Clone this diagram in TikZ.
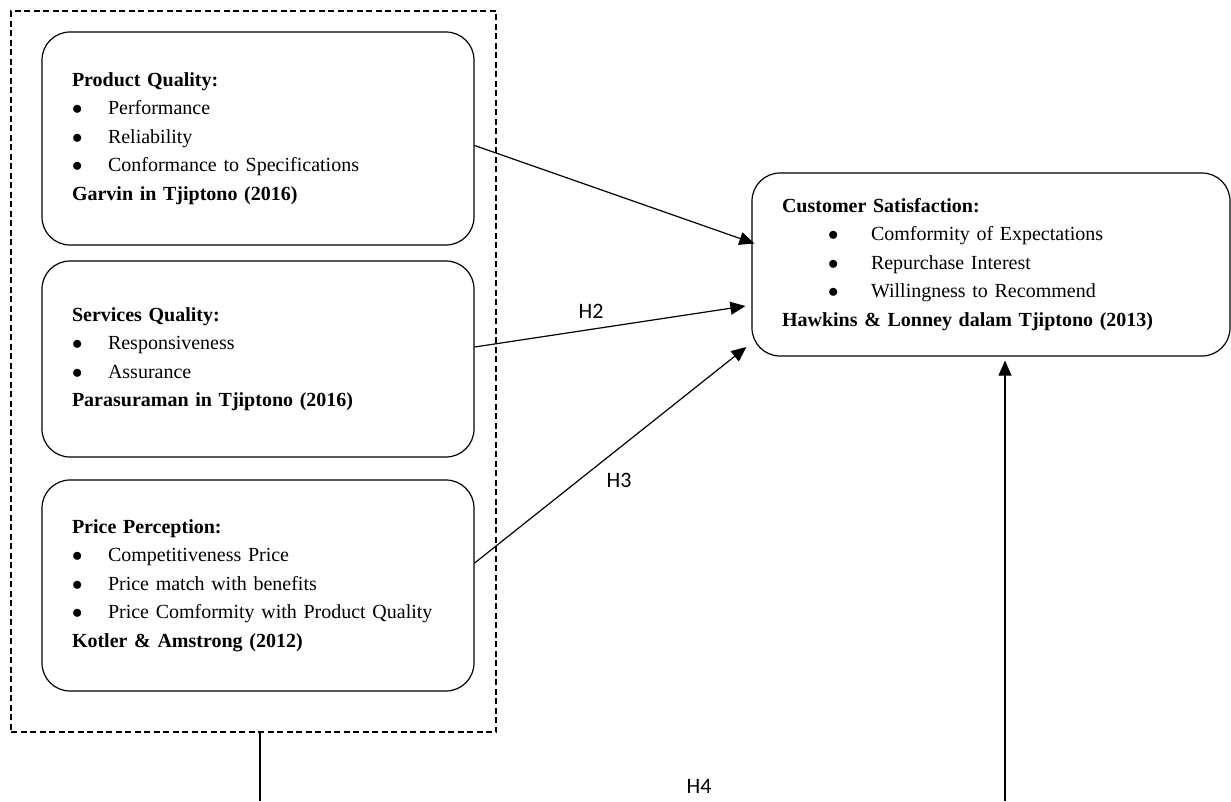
\documentclass[tikz,border=0pt]{standalone}
\usepackage{fontspec}
\setmainfont{Liberation Serif}
\newfontfamily\hfont{Carlito}
\usetikzlibrary{arrows.meta,calc}
\newcommand{\blt}{$\bullet$}
\begin{document}
\begin{tikzpicture}[x=1pt,y=-1pt,
  varbox/.style={draw, line width=1.2pt, rounded corners=28pt, inner xsep=30pt, inner ysep=0pt,
    align=left, font=\fontsize{20}{28.4}\selectfont},
  grpbox/.style={draw, line width=1.1pt, dash pattern=on 6pt off 3.5pt, inner sep=0pt},
  plain/.style={line width=1.2pt},
  link/.style={line width=1.2pt, -{Triangle[length=15pt,width=13pt]}},
  hlabel/.style={font=\hfont\fontsize{22}{24}\selectfont}
]
\useasboundingbox (0,0) rectangle (1231,801);

\node[grpbox, minimum width=485pt, minimum height=721pt] (grp) at (253.5,371.5) {};

\node[varbox, minimum width=432pt, minimum height=213pt, text width=372pt] (pq) at (258,138.5)
{\textbf{Product Quality:}\\
\makebox[36pt][l]{\blt}Performance\\
\makebox[36pt][l]{\blt}Reliability\\
\makebox[36pt][l]{\blt}Conformance to Specifications\\
\textbf{Garvin in Tjiptono (2016)}};

\node[varbox, minimum width=432pt, minimum height=196pt, text width=372pt] (sq) at (258,359)
{\textbf{Services Quality:}\\
\makebox[36pt][l]{\blt}Responsiveness\\
\makebox[36pt][l]{\blt}Assurance\\
\textbf{Parasuraman in Tjiptono (2016)}};

\node[varbox, minimum width=432pt, minimum height=211pt, text width=372pt] (pp) at (258,585.5)
{\textbf{Price Perception:}\\
\makebox[36pt][l]{\blt}Competitiveness Price\\
\makebox[36pt][l]{\blt}Price match with benefits\\
\makebox[36pt][l]{\blt}Price Comformity with Product Quality\\
\textbf{Kotler \& Amstrong (2012)}};

\node[varbox, minimum width=478pt, minimum height=183pt, text width=418pt] (cs) at (991,264.5)
{\textbf{Customer Satisfaction:}\\
\hspace*{46pt}\makebox[43pt][l]{\blt}Comformity of Expectations\\
\hspace*{46pt}\makebox[43pt][l]{\blt}Repurchase Interest\\
\hspace*{46pt}\makebox[43pt][l]{\blt}Willingness to Recommend\\
\textbf{Hawkins \& Lonney dalam Tjiptono (2013)}};

\draw[link] ([yshift=-7pt]pq.east) -- ([xshift=3pt,yshift=21pt]cs.west);
\draw[link] ([yshift=12pt]sq.east) -- ([xshift=-6pt,yshift=-41.5pt]cs.west);
\draw[link] ([yshift=22.5pt]pp.east) -- ([xshift=-5pt,yshift=-82.5pt]cs.west);

\coordinate (h4a) at (260,801);
\coordinate (h4b) at (1005,801);
\draw[plain] ([xshift=6.5pt]grp.south) -- (h4a);
\draw[link] (h4b) -- ($(h4b |- cs.south)+(0,4)$);

\node[hlabel] (h2) at (591,311) {H2};
\node[hlabel] (h3) at (619,480) {H3};
\node[hlabel] (h4) at (699,786) {H4};
\end{tikzpicture}
\end{document}
